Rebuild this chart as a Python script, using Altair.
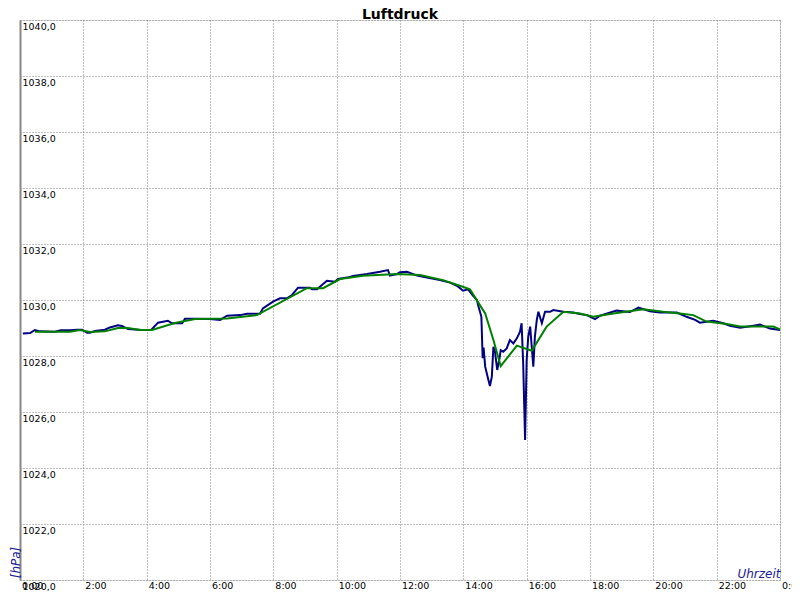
import altair as alt
import pandas as pd

# Raw pressure readings (hours since midnight, hPa)
raw_hours = [0.09, 0.32, 0.47, 0.63, 1.10, 1.29, 1.58, 1.80, 1.96, 2.12, 2.21, 2.37, 2.68, 2.84,
             3.09, 3.22, 3.41, 3.85, 4.14, 4.36, 4.67, 4.80, 5.12, 5.21, 5.53, 6.00, 6.32, 6.54,
             6.95, 7.17, 7.58, 7.67, 7.99, 8.21, 8.43, 8.59, 8.78, 9.16, 9.22, 9.38, 9.69, 9.95,
             10.04, 10.33, 10.52, 10.96, 11.37, 11.62, 11.68, 11.91, 12.00, 12.22, 12.54, 12.85,
             13.26, 13.58, 13.80, 13.99, 14.15, 14.31, 14.43, 14.47, 14.57, 14.61, 14.64, 14.69,
             14.78, 14.84, 14.90, 14.95, 15.00, 15.07, 15.14, 15.18, 15.26, 15.37, 15.47, 15.58,
             15.69, 15.79, 15.84, 15.89, 15.95, 16.00, 16.05, 16.11, 16.21, 16.26, 16.32, 16.37,
             16.48, 16.58, 16.74, 16.84, 17.16, 17.47, 17.68, 17.90, 18.16, 18.32, 18.84, 19.26,
             19.53, 19.89, 20.21, 20.74, 21.05, 21.32, 21.47, 21.89, 22.21, 22.42, 22.74, 23.16,
             23.37, 23.68, 24.00]
raw_press = [1028.80, 1028.82, 1028.93, 1028.88, 1028.87, 1028.92, 1028.92, 1028.94, 1028.94,
             1028.83, 1028.83, 1028.89, 1028.94, 1029.02, 1029.10, 1029.07, 1028.96, 1028.93,
             1028.93, 1029.19, 1029.26, 1029.17, 1029.17, 1029.33, 1029.33, 1029.32, 1029.29,
             1029.44, 1029.46, 1029.51, 1029.51, 1029.70, 1029.94, 1030.06, 1030.06, 1030.18,
             1030.44, 1030.44, 1030.38, 1030.38, 1030.69, 1030.65, 1030.75, 1030.80, 1030.86,
             1030.93, 1031.01, 1031.07, 1030.87, 1030.93, 1030.99, 1031.01, 1030.87, 1030.80,
             1030.71, 1030.62, 1030.51, 1030.33, 1030.38, 1030.15, 1030.00, 1029.80, 1029.40,
             1027.92, 1028.30, 1027.62, 1027.20, 1026.93, 1027.26, 1028.33, 1028.15, 1027.50,
             1027.90, 1028.21, 1028.15, 1028.27, 1028.57, 1028.45, 1028.63, 1028.87, 1029.17,
             1027.74, 1025.00, 1027.86, 1028.69, 1029.05, 1027.62, 1028.69, 1029.29, 1029.58,
             1029.17, 1029.58, 1029.58, 1029.64, 1029.58, 1029.55, 1029.50, 1029.46, 1029.32,
             1029.44, 1029.62, 1029.57, 1029.73, 1029.60, 1029.55, 1029.55, 1029.40, 1029.29,
             1029.19, 1029.26, 1029.17, 1029.08, 1029.01, 1029.08, 1029.12, 1028.98, 1028.93]

# Smoothed pressure (hours, hPa)
avg_hours = [0.47, 1.58, 1.89, 2.21, 2.68, 3.09, 3.41, 3.79, 4.17, 4.89, 5.53, 6.54, 7.48, 9.06,
             9.57, 10.11, 10.83, 11.91, 12.63, 13.36, 13.89, 14.21, 14.69, 14.95, 15.18, 15.69,
             16.16, 16.63, 17.16, 17.68, 18.10, 18.74, 19.68, 20.31, 20.84, 21.26, 21.68, 22.32,
             22.74, 23.79, 24.00]
avg_press = [1028.87, 1028.87, 1028.93, 1028.86, 1028.88, 1029.00, 1029.00, 1028.93, 1028.93,
             1029.18, 1029.32, 1029.34, 1029.46, 1030.42, 1030.42, 1030.75, 1030.87, 1030.93,
             1030.89, 1030.71, 1030.51, 1030.38, 1029.52, 1028.57, 1027.64, 1028.37, 1028.19,
             1029.05, 1029.58, 1029.52, 1029.40, 1029.52, 1029.67, 1029.58, 1029.52, 1029.46,
             1029.23, 1029.14, 1029.05, 1029.05, 1028.95]

x_ticks = list(range(0, 25, 2))
y_ticks = list(range(1020, 1041, 2))

df_raw = pd.DataFrame({"h": raw_hours, "p": raw_press})
df_avg = pd.DataFrame({"h": avg_hours, "p": avg_press})

FONT = "DejaVu Sans"
BLUE = "#202098"

x_enc = alt.X(
    "h:Q",
    scale=alt.Scale(domain=[0, 24], nice=False, zero=False),
    axis=alt.Axis(
        values=x_ticks,
        labelExpr="(datum.value % 24) + ':00'",
        title="Uhrzeit",
        titleX=760, titleY=-3, titleAlign="right", titleBaseline="alphabetic",
        titleFontStyle="italic", titleFontWeight="normal", titleColor=BLUE,
        titleFontSize=12, titleFont=FONT,
        labelAlign="left", labelBaseline="top", labelOffset=1.5, labelPadding=0,
        labelFont=FONT, labelFontSize=9.5, labelColor="black", labelFlush=False,
        labelOverlap=False, labelBound=False,
        ticks=False, domain=False,
        grid=True, gridDash=[1, 2], gridColor="#808080", gridWidth=1, gridOpacity=1,
    ),
)
y_enc = alt.Y(
    "p:Q",
    scale=alt.Scale(domain=[1020, 1040], nice=False, zero=False),
    axis=alt.Axis(
        values=y_ticks,
        labelExpr="replace(format(datum.value, '.1f'), '.', ',')",
        title="[hPa]",
        titleX=-5, titleY=542, titleAngle=270, titleAlign="center", titleBaseline="middle",
        titleFontStyle="italic", titleFontWeight="normal", titleColor=BLUE,
        titleFontSize=12, titleFont=FONT,
        labelAlign="left", labelBaseline="top", labelOffset=1, labelPadding=-2,
        labelFont=FONT, labelFontSize=9.5, labelColor="black", labelFlush=False,
        labelOverlap=False, labelBound=False,
        ticks=False, domain=True, domainColor="#888888", domainWidth=2,
        grid=True, gridDash=[1, 2], gridColor="#808080", gridWidth=1, gridOpacity=1,
    ),
)

raw_line = alt.Chart(df_raw).mark_line(color="#000080", strokeWidth=2).encode(x=x_enc, y=y_enc)
avg_line = alt.Chart(df_avg).mark_line(color="#008000", strokeWidth=2).encode(x="h:Q", y="p:Q")

chart = (
    alt.layer(raw_line, avg_line)
    .properties(
        width=760,
        height=560,
        padding={"left": 12, "top": 12, "right": 12, "bottom": 11},
        autosize=alt.AutoSizeParams(type="none"),
        title=alt.TitleParams("Luftdruck", font=FONT, fontSize=14, fontWeight="bold",
                              color="black", anchor="middle", offset=-2),
    )
    .configure_view(strokeWidth=0)
    .configure(background="white")
)

chart.save("out.html", embed_options={"renderer": "svg", "actions": False})
